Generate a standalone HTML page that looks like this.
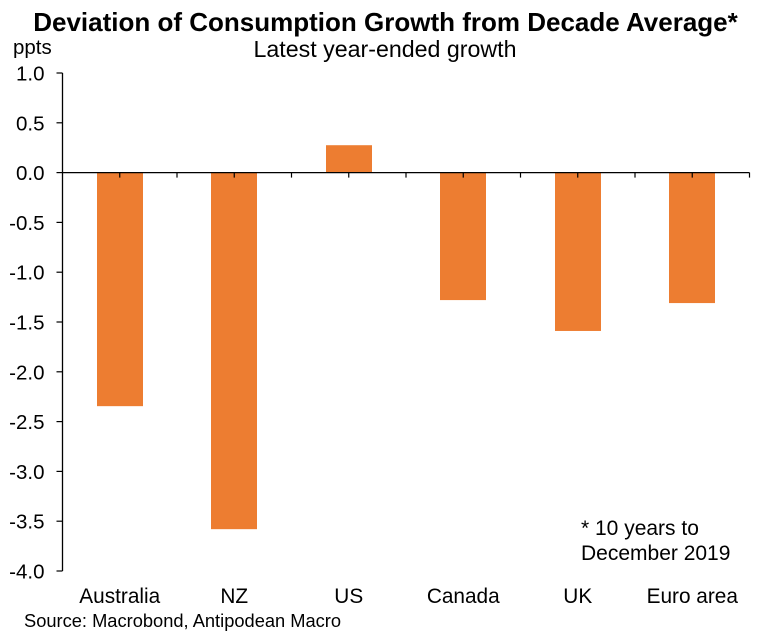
<!DOCTYPE html>
<html lang="en">
<head>
<meta charset="utf-8">
<title>Deviation of Consumption Growth from Decade Average</title>
<style>
html,body{margin:0;padding:0;background:#fff;width:767px;height:633px;overflow:hidden}
svg{display:block}
text{font-family:"Liberation Sans",Arial,sans-serif;fill:#000}
</style>
</head>
<body>
<svg id="chart" width="767" height="633" viewBox="0 0 767 633" xmlns="http://www.w3.org/2000/svg">
  <rect x="0" y="0" width="767" height="633" fill="#fff"/>
  <text x="385.5" y="31" text-anchor="middle" font-size="26" font-weight="bold">Deviation of Consumption Growth from Decade Average*</text>
  <text x="385" y="57" text-anchor="middle" font-size="23.2">Latest year-ended growth</text>
  <text x="13" y="54" font-size="20.5">ppts</text>
  <g id="bars"></g>
  <g id="axes"></g>
  <text x="581" y="535" font-size="21">* 10 years to</text>
  <text x="581" y="560" font-size="21">December 2019</text>
  <text x="24" y="627" font-size="18.3">Source: Macrobond, Antipodean Macro</text>
</svg>
<script>
const categories = ["Australia", "NZ", "US", "Canada", "UK", "Euro area"];
const seriesValues = [-2.345, -3.58, 0.275, -1.28, -1.59, -1.31];
const yTickValues = [1.0, 0.5, 0.0, -0.5, -1.0, -1.5, -2.0, -2.5, -3.0, -3.5, -4.0];
const yTickLabels = ["1.0", "0.5", "0.0", "-0.5", "-1.0", "-1.5", "-2.0", "-2.5", "-3.0", "-3.5", "-4.0"];

const NS = "http://www.w3.org/2000/svg";
const plotLeft = 62.5, plotRight = 749.5, plotTop = 73, plotBottom = 571;
const yMax = 1, yMin = -4;
const barWidth = 46;
const yScale = v => plotTop + (yMax - v) / (yMax - yMin) * (plotBottom - plotTop);
const bandWidth = (plotRight - plotLeft) / categories.length;
const xScale = i => plotLeft + bandWidth * (i + 0.5);

function make(tag, attrs, parent) {
  const el = document.createElementNS(NS, tag);
  for (const k in attrs) el.setAttribute(k, attrs[k]);
  parent.appendChild(el);
  return el;
}

const barsGroup = document.getElementById("bars");
const axesGroup = document.getElementById("axes");

seriesValues.forEach((v, i) => {
  const y0 = yScale(0), y1 = yScale(v);
  const bar = make("rect", {
    x: Math.round(xScale(i) - barWidth / 2),
    y: Math.min(y0, y1),
    width: barWidth,
    height: Math.abs(y1 - y0),
    fill: "#ed7d31"
  }, barsGroup);
  
  
});

const yAxisLine = make("line", {x1: plotLeft, x2: plotLeft, y1: plotTop, y2: plotBottom, stroke: "#000", "stroke-width": 1.3}, axesGroup);



const xAxisLine = make("line", {x1: plotLeft, x2: plotRight, y1: yScale(0), y2: yScale(0), stroke: "#000", "stroke-width": 1.3}, axesGroup);



yTickValues.forEach((v, i) => {
  const y = yScale(v);
  const tick = make("line", {x1: plotLeft - 6, x2: plotLeft, y1: y, y2: y, stroke: "#000", "stroke-width": 1.2}, axesGroup);
  
  
  const label = make("text", {x: 44.5, y: y + 7.5, "text-anchor": "end", "font-size": 20.5}, axesGroup);
  label.textContent = yTickLabels[i];
  
  
});

categories.forEach((c, i) => {
  const cx = xScale(i), y0 = yScale(0);
  const centerTick = make("line", {x1: cx, x2: cx, y1: y0, y2: y0 + 5, stroke: "#000", "stroke-width": 1.2}, axesGroup);
  
  
  const edgeTick = make("line", {x1: cx + bandWidth / 2, x2: cx + bandWidth / 2, y1: y0, y2: y0 + 5, stroke: "#000", "stroke-width": 1.2}, axesGroup);
  
  
  const label = make("text", {x: cx, y: 603, "text-anchor": "middle", "font-size": 20.8}, axesGroup);
  label.textContent = c;
  
  
});
</script>
</body>
</html>
